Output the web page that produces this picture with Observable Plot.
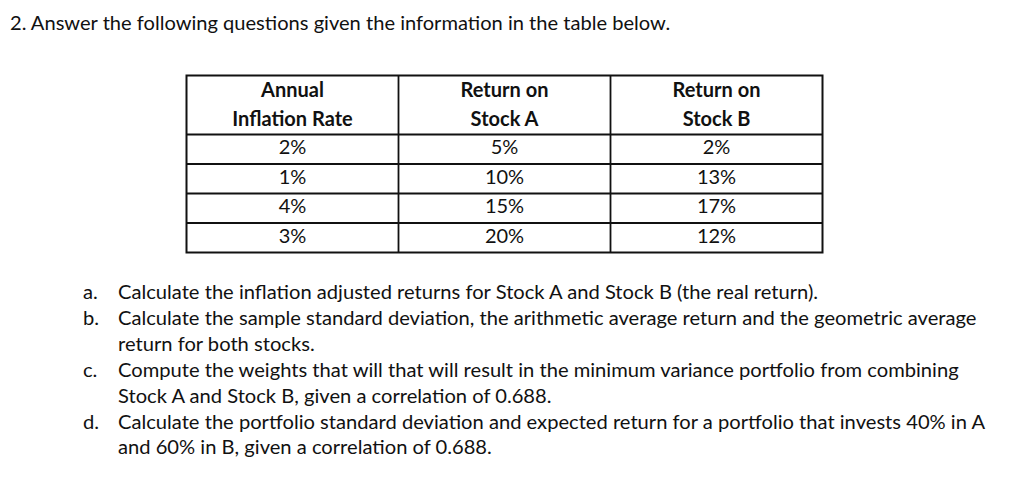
<!DOCTYPE html>
<html>
<head>
<meta charset="utf-8">
<script src="https://cdn.jsdelivr.net/npm/d3@7"></script>
<script src="https://cdn.jsdelivr.net/npm/@observablehq/plot@0.6"></script>
<style>
  html, body { margin: 0; padding: 0; background: #fff; }
  body { width: 1024px; height: 486px; position: relative; overflow: hidden;
         font-family: Lato, "Open Sans", sans-serif; color: #111; }
  #title { position: absolute; left: 10px; top: 9px; font-size: 20.1px; line-height: 26px; white-space: nowrap; }
  #table { position: absolute; left: 0; top: 60px; }
  #questions { position: absolute; left: 83px; top: 279px; font-size: 20.15px; line-height: 25.9px; }
  .q { display: flex; white-space: nowrap; }
  .q .lab { width: 35px; flex: none; }
</style>
</head>
<body>
<div id="title"></div>
<div id="table"></div>
<div id="questions"></div>
<script>
// ---- data ----
const titleText = "2. Answer the following questions given the information in the table below.";
const headers = ["Annual\nInflation Rate", "Return on\nStock A", "Return on\nStock B"];
const inflationRate = [2, 1, 4, 3];
const returnStockA = [5, 10, 15, 20];
const returnStockB = [2, 13, 17, 12];
const questionLabels = ["a.", "b.", "c.", "d."];
const questionLines = [
  ["Calculate the inflation adjusted returns for Stock A and Stock B (the real return)."],
  ["Calculate the sample standard deviation, the arithmetic average return and the geometric average", "return for both stocks."],
  ["Compute the weights that will that will result in the minimum variance portfolio from combining", "Stock A and Stock B, given a correlation of 0.688."],
  ["Calculate the portfolio standard deviation and expected return for a portfolio that invests 40% in A", "and 60% in B, given a correlation of 0.688."]
];

// ---- title & questions ----
document.getElementById("title").textContent = titleText;
const qdiv = document.getElementById("questions");
questionLabels.forEach((lab, i) => {
  const row = document.createElement("div");
  row.className = "q";
  const l = document.createElement("span"); l.className = "lab"; l.textContent = lab;
  const t = document.createElement("span");
  questionLines[i].forEach((line, k) => {
    if (k) t.appendChild(document.createElement("br"));
    t.appendChild(document.createTextNode(line));
  });
  row.appendChild(l); row.appendChild(t);
  qdiv.appendChild(row);
});

// ---- table ----
const columns = [inflationRate, returnStockA, returnStockB];
const headerCells = headers.map((h, j) => ({col: j + 0.5, row: 1, label: h}));
const bodyCells = [];
columns.forEach((vals, j) => vals.forEach((v, i) => bodyCells.push({col: j + 0.5, row: 2.5 + i, label: v + "%"})));
const nRows = 2 + inflationRate.length;

const chart = Plot.plot({
  width: 1024,
  height: 200,
  marginLeft: 186,
  marginRight: 202,
  marginTop: 15,
  marginBottom: 8,
  style: {fontFamily: "Lato, 'Open Sans', sans-serif", color: "#111", background: "#fff"},
  x: {domain: [0, headers.length], axis: null},
  y: {domain: [0, nRows], range: [15, 192], axis: null},
  marks: [
    Plot.ruleX(d3.range(1, headers.length), {y1: 0, y2: nRows, stroke: "#111", strokeWidth: 1.8}),
    Plot.ruleY(d3.range(2, nRows), {x1: 0, x2: headers.length, stroke: "#111", strokeWidth: 1.8}),
    Plot.frame({stroke: "#111", strokeWidth: 2}),
    Plot.text(headerCells, {x: "col", y: "row", text: "label", fontSize: 20, fontWeight: "bold", lineHeight: 1.45, dy: -3, fill: "#111"}),
    Plot.text(bodyCells, {x: "col", y: "row", text: "label", fontSize: 20, dy: -1.5, fill: "#111"})
  ]
});
document.getElementById("table").appendChild(chart);
</script>
</body>
</html>
